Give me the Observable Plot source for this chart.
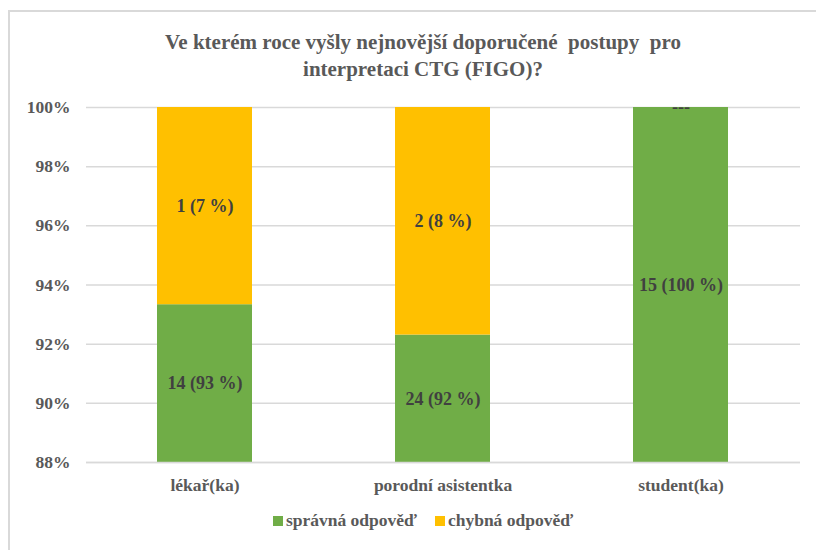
<!DOCTYPE html>
<html><head><meta charset="utf-8">
<script src="https://cdn.jsdelivr.net/npm/d3@7"></script>
<script src="https://cdn.jsdelivr.net/npm/@observablehq/plot@0.6"></script>
<style>
html,body{margin:0;padding:0;background:#fff;}
#wrap{position:relative;width:816px;height:550px;overflow:hidden;font-family:"Liberation Serif","Times New Roman",serif;}
#frame{position:absolute;left:8px;top:10px;width:820px;height:560px;border:2px solid #d9d9d9;box-sizing:border-box;}
#title{position:absolute;left:0;top:29px;width:846px;text-align:center;font-weight:bold;font-size:21px;line-height:27px;color:#595959;}
#legend{position:absolute;left:0;top:510px;width:846px;text-align:center;font-weight:bold;font-size:17.5px;color:#595959;}
#legend span.sw{display:inline-block;width:10px;height:10px;margin-right:3px;vertical-align:0px;}
#legend span.it{margin:0 9px;}
#chart{position:absolute;left:0;top:0;}
#chart svg text{font-family:"Liberation Serif","Times New Roman",serif;}
</style></head>
<body><div id="wrap"><div id="frame"></div><div id="chart"></div>
<div id="title">Ve kterém roce vyšly nejnovější doporučené&nbsp; postupy&nbsp; pro<br>interpretaci CTG (FIGO)?</div>
<div id="legend"></div></div>
<script>
const categories = ["lékař(ka)", "porodní asistentka", "student(ka)"];
const correct = [14, 24, 15];
const wrong = [1, 2, 0];
const seriesNames = ["správná odpověď", "chybná odpověď"];
const seriesColors = ["#70ad47", "#ffc000"];
const yTicks = [0.88, 0.90, 0.92, 0.94, 0.96, 0.98, 1.00];
const yMin = 0.88, yMax = 1.0;

const rows = [];
categories.forEach((c, i) => {
  const tot = correct[i] + wrong[i];
  const p1 = correct[i] / tot, p2 = wrong[i] / tot;
  rows.push({cat: c, series: seriesNames[0], y1: 0, y2: p1, n: correct[i], p: p1});
  rows.push({cat: c, series: seriesNames[1], y1: p1, y2: 1, n: wrong[i], p: p2});
});
const labels = rows.map(r => {
  const lo = Math.max(r.y1, yMin), hi = Math.min(r.y2, yMax);
  return {cat: r.cat, y: r.n === 0 ? r.y2 : (lo + hi) / 2,
    text: r.n === 0 ? "---" : `${r.n} (${Math.round(r.p * 100)} %)`};
});
const serif = '"Liberation Serif","Times New Roman",serif';

const plot = Plot.plot({
  width: 816, height: 550,
  marginLeft: 86, marginRight: 16, marginTop: 107, marginBottom: 88,
  style: {fontFamily: serif, background: "transparent", overflow: "visible"},
  x: {domain: categories, paddingInner: 0.6, paddingOuter: 0.3, label: null, tickSize: 0},
  y: {domain: [yMin, yMax], label: null, ticks: yTicks, tickSize: 0},
  color: {domain: seriesNames, range: seriesColors},
  marks: [
    Plot.gridY(yTicks, {stroke: "#d9d9d9", strokeOpacity: 1, strokeWidth: 1.5}),
    Plot.barY(rows, {x: "cat", y1: "y1", y2: "y2", fill: "series", clip: true}),
    Plot.ruleY([yMin], {stroke: "#d9d9d9", strokeWidth: 1.5}),
    Plot.text(labels, {x: "cat", y: "y", text: "text", fill: "#404040", fontSize: 18, fontWeight: "bold", fontFamily: serif}),
    Plot.axisY({ticks: yTicks, tickFormat: d => Math.round(d * 100) + "%", tickSize: 0, tickPadding: 16,
      fontSize: 17.5, fontWeight: "bold", fill: "#595959", label: null, fontFamily: serif}),
    Plot.axisX({tickSize: 0, tickPadding: 16, fontSize: 17.5, fontWeight: "bold", fill: "#595959", label: null, fontFamily: serif})
  ]
});
document.getElementById("chart").appendChild(plot);

const lg = document.getElementById("legend");
seriesNames.forEach((s, i) => {
  const it = document.createElement("span");
  it.className = "it";
  const sw = document.createElement("span");
  sw.className = "sw"; sw.style.background = seriesColors[i];
  it.appendChild(sw);
  it.appendChild(document.createTextNode(s));
  lg.appendChild(it);
});
</script></body></html>
